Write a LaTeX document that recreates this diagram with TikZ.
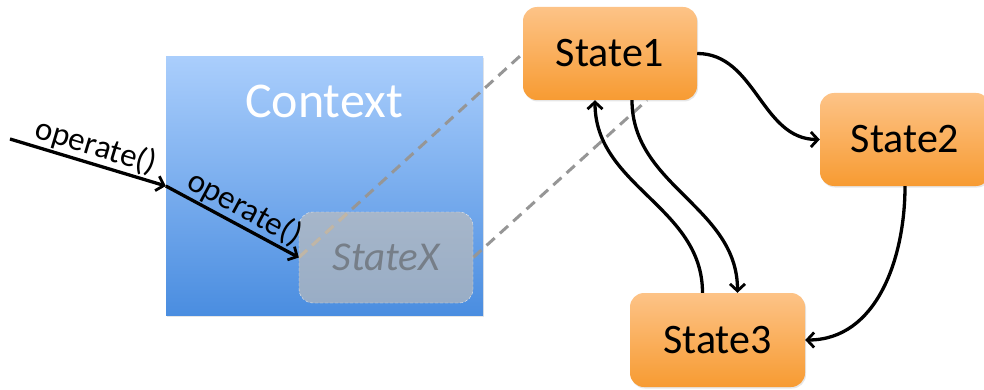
\documentclass[tikz,border=0pt]{standalone}
\usepackage{fontspec}
\setmainfont{Carlito}
\usetikzlibrary{arrows.meta,shadows,calc}
\pgfdeclarelayer{back}
\pgfdeclarelayer{mid}
\pgfsetlayers{back,mid,main}

\definecolor{ctxtop}{RGB}{170,206,252}
\definecolor{ctxbot}{RGB}{74,141,224}
\definecolor{orgtop}{RGB}{253,195,135}
\definecolor{orgbot}{RGB}{247,155,50}
\definecolor{ghostfill}{RGB}{203,193,180}
\definecolor{ghosttext}{RGB}{118,126,136}
\definecolor{dashgray}{RGB}{150,150,150}
\definecolor{dashseen}{RGB}{192,182,166}

\tikzset{
  ctxbox/.style={rectangle, inner sep=0pt, minimum width=317pt, minimum height=258pt,
    top color=ctxtop, bottom color=ctxbot, draw=none,
    drop shadow={shadow xshift=1pt, shadow yshift=-1.5pt, opacity=0.2}},
  statebox/.style={rectangle, rounded corners=14pt, inner sep=0pt,
    minimum width=174pt, minimum height=93pt,
    top color=orgtop, bottom color=orgbot, draw=none,
    font=\fontsize{42}{50}\selectfont, text=black,
    drop shadow={shadow xshift=1pt, shadow yshift=-1.5pt, opacity=0.2}},
  ghostbox/.style={rectangle, rounded corners=14pt, inner sep=0pt,
    minimum width=174pt, minimum height=91pt,
    fill=ghostfill, fill opacity=0.6, text opacity=1,
    draw=white!85!gray, densely dashed, line width=0.4pt,
    font=\fontsize{41}{48}\selectfont\itshape, text=ghosttext},
  call/.style={line width=3.3pt, -{Straight Barb[length=7pt,width=15pt,line width=2.8pt]}},
  trans/.style={line width=3.3pt, -{Straight Barb[length=7pt,width=15pt,line width=2.8pt]}},
  zoomline/.style={dashgray, line width=3pt, dash pattern=on 11pt off 7pt},
  calllabel/.style={font=\fontsize{33}{38}\selectfont, sloped, above, inner sep=1pt},
}

\begin{document}
\begin{tikzpicture}[x=1pt,y=-1pt]
  \useasboundingbox (0,0) rectangle (984,390);

  % context frame
  \begin{pgfonlayer}{back}
    \node[ctxbox] (ctx) at (324.5,186) {};
  \end{pgfonlayer}
  \node[text=white, font=\fontsize{50}{58}\selectfont] (ctxtitle) at (324,101) {Context};

  % states
  \node[statebox] (s1) at (610,53.5) {State1};
  \node[statebox, minimum width=170pt] (s2) at (905,139.5) {State2};
  \node[statebox, minimum width=175pt, minimum height=94pt] (s3) at (717.5,340) {State3};

  % current state held by the context
  \node[ghostbox] (sx) at (386,257.5) {StateX};

  % zoom lines from the held state to the concrete state
  \coordinate (s1foot) at ([xshift=37pt]s1.south);
  \begin{pgfonlayer}{mid}
    \draw[zoomline] (sx.west) -- (s1.west);
    \draw[zoomline] (sx.east) -- (s1foot);
  \end{pgfonlayer}
  % the part of the upper zoom line seen through the translucent state
  \begin{scope}
    \clip[rounded corners=14pt] (sx.north west) rectangle (sx.south east);
    \draw[zoomline, dashseen] (sx.west) -- (s1.west);
  \end{scope}

  % calls
  \coordinate (caller) at (10,139);
  \draw[call] (caller) -- (ctx.west) node[calllabel, pos=0.52] (op1) {operate()};
  \draw[call] (ctx.west) -- (sx.west) node[calllabel, pos=0.53] (op2) {operate()};

  % transitions
  \draw[trans] (s1.east) to[out=0,in=180] (s2.west);
  \draw[trans] ([xshift=22pt]s1.south) to[out=-90,in=90] ([xshift=20pt]s3.north);
  \draw[trans] ([xshift=-15pt]s3.north) to[out=90,in=-90] ([xshift=-15pt]s1.south);
  \draw[trans] (s2.south) to[out=-90,in=0] (s3.east);
\end{tikzpicture}
\end{document}
